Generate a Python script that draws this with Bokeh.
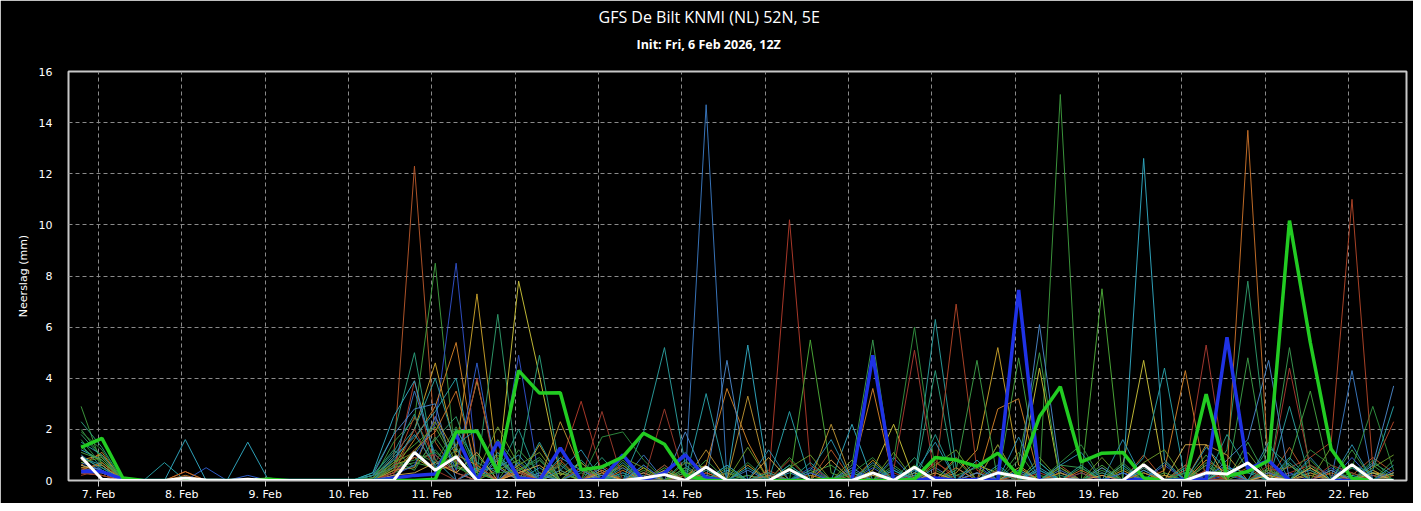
import pandas as pd
from bokeh.plotting import figure
from bokeh.models import Range1d, FixedTicker, Title
from bokeh.embed import file_html
from bokeh.resources import INLINE

# ---------------- data ----------------
title_text = "GFS De Bilt KNMI (NL) 52N, 5E"
subtitle_text = "Init: Fri, 6 Feb 2026, 12Z"
y_label = "Neerslag (mm)"

# 6-hourly steps, local time (CET), from 6 Feb 19h to 22 Feb 13h
times = pd.date_range("2026-02-06 19:00", periods=64, freq="6h")
day_ticks = pd.date_range("2026-02-07", periods=16, freq="D")
day_labels = ["7. Feb", "8. Feb", "9. Feb", "10. Feb", "11. Feb", "12. Feb", "13. Feb", "14. Feb",
              "15. Feb", "16. Feb", "17. Feb", "18. Feb", "19. Feb", "20. Feb", "21. Feb", "22. Feb"]
y_ticks = [0, 2, 4, 6, 8, 10, 12, 14, 16]

oper = [1.3, 1.65, 0.1, 0, 0, 0, 0, 0, 0, 0.05, 0, 0, 0, 0, 0, 0,
        0, 0.05, 1.9, 1.93, 0.33, 4.3, 3.42, 3.43, 0.42, 0.53, 0.92, 1.85, 1.42, 0.2, 0, 0,
        0, 0, 0, 0, 0.05, 0, 0, 0, 0.05, 0.9, 0.8, 0.55, 1.07, 0.2, 2.5, 3.67,
        0.73, 1.07, 1.1, 0.1, 0, 0, 3.38, 0.17, 0.35, 0.78, 10.17, 5.4, 1.23, 0.08, 0, 0]
control = [0.35, 0.35, 0.05, 0, 0, 0, 0, 0, 0, 0, 0, 0, 0, 0, 0, 0.1,
           0.2, 0.25, 1.8, 0, 1.5, 0.1, 0, 1.27, 0, 0.05, 1.0, 0, 0.3, 1.0, 0.1, 0,
           0, 0, 0, 0, 0, 0, 4.9, 0, 0, 0.1, 0, 0.05, 0, 7.45, 0, 0,
           0, 0, 0, 0.05, 0, 0.05, 0.05, 5.6, 0.45, 0.78, 0, 0, 0, 0, 0, 0]
ens_mean = [0.92, 0.05, 0, 0, 0, 0.1, 0.02, 0, 0.05, 0, 0, 0, 0, 0, 0, 0,
            1.1, 0.4, 0.93, 0, 0, 0, 0, 0, 0, 0, 0, 0.1, 0.23, 0, 0.53, 0,
            0, 0, 0.43, 0, 0, 0, 0.3, 0, 0.52, 0, 0, 0, 0.3, 0.15, 0, 0.05,
            0, 0, 0, 0.62, 0, 0, 0.3, 0.25, 0.69, 0.05, 0, 0, 0, 0.62, 0, 0]

m01 = [0.5, 0.3, 0, 0, 0, 0.35, 0, 0, 0, 0, 0, 0, 0, 0, 0.1, 0.9,
       12.3, 1.5, 0.3, 0, 0.8, 0.2, 0, 0.4, 0, 0.2, 0.6, 0, 0, 0.3, 0, 0,
       0, 0.4, 0, 0, 1.2, 0, 0.3, 0, 0, 0.7, 0.2, 0, 1.4, 0, 0, 0.6,
       0, 0.2, 0, 1.0, 0, 0.4, 0, 0.1, 0.5, 0, 1.3, 0, 0, 0.2, 0.9, 0.3]
m02 = [2.9, 0.6, 0, 0, 0, 0, 0, 0, 0, 0, 0, 0, 0, 0, 0, 1.5,
       2.4, 8.5, 0.6, 0.2, 1.0, 0, 0.3, 0, 0.5, 0, 0, 0.4, 0, 0, 0.8, 0,
       0.2, 0, 0.9, 0, 0, 0.3, 0, 0.6, 0, 0, 0.2, 0.5, 0, 1.1, 0, 15.1,
       0.3, 0, 0.5, 0, 0.2, 0, 0, 0.6, 0, 0.3, 0, 0.8, 0, 0, 0.4, 0]
m03 = [0.4, 0.5, 0.1, 0, 0, 0, 0, 0, 0, 0, 0, 0, 0, 0, 0, 0.3,
       1.0, 2.2, 8.5, 0.4, 0, 4.9, 0, 0.6, 0, 0, 0.3, 0, 0, 0, 0.2, 0,
       0, 0, 0, 0.5, 0, 0, 0, 0.2, 0, 0, 0, 0, 0, 0.4, 0, 0,
       0, 0.3, 0, 0, 0.6, 0, 0, 0.2, 0, 0, 0.3, 0, 0.5, 0, 0.2, 0]
m04 = [0.8, 1.0, 0.1, 0, 0, 0, 0, 0, 0, 0, 0, 0, 0, 0, 0, 0.5,
       2.0, 4.6, 1.1, 7.3, 0.6, 0, 1.4, 0, 0, 0.5, 0, 0, 0.3, 0, 0, 0,
       0.6, 0, 0, 0.2, 0, 0, 0.8, 0, 0, 0, 0.3, 1.2, 5.2, 0.6, 0, 0.3,
       0, 0, 0.4, 0, 0, 0, 0, 0.5, 0, 0.3, 0, 0, 0.4, 0, 0.2, 0]
m05 = [1.8, 0.9, 0, 0, 0, 0, 0, 0, 0, 0, 0, 0, 0, 0, 0.2, 1.2,
       0.5, 1.6, 2.5, 0.3, 6.5, 0, 0.8, 0, 0.4, 0, 0.2, 0, 0, 0.5, 0, 0,
       0, 0, 0.6, 0, 0, 0.4, 0, 0, 0.9, 0, 0, 0.3, 0, 0, 0.7, 0,
       0.5, 0, 0, 0.4, 0, 0.6, 0, 1.2, 7.8, 0.8, 0, 0.3, 0, 0.6, 0, 0]
m06 = [0.3, 0.2, 0, 0, 0, 0, 0, 0, 0, 0, 0, 0, 0, 0, 0, 0.6,
       0.9, 0.4, 0.6, 3.9, 0.3, 7.8, 4.1, 0.2, 0.7, 0, 0, 0.5, 0, 0, 0, 0.3,
       0, 0, 0, 0, 0, 0, 0.4, 2.2, 0, 0, 0, 0.6, 0.3, 0, 4.4, 0,
       0, 0, 0.6, 4.7, 0.2, 0, 0, 0, 0, 0.4, 0, 0, 0, 0, 0.3, 0.2]
m07 = [2.3, 1.3, 0, 0, 0, 0, 0, 0, 0, 0, 0, 0, 0, 0, 0.3, 1.8,
       5.0, 0.5, 1.2, 0.3, 0, 0.6, 4.9, 0.4, 0, 0.9, 0, 0, 0, 0.3, 0, 0.6,
       0, 0, 0, 0, 0.8, 0, 0, 0.4, 0, 4.3, 0, 0, 0.4, 0, 0, 0.2,
       0, 0, 0.3, 0, 0, 0.5, 0, 0, 0, 1.3, 0.6, 0, 0, 0, 0.7, 0.2]
m08 = [0.6, 1.1, 0, 0, 0, 0.2, 0, 0, 0, 0, 0, 0, 0, 0, 0, 0.4,
       1.6, 2.9, 5.4, 0.6, 0, 0.5, 0, 0.3, 0, 0, 0.4, 0, 0, 0.2, 0.6, 3.6,
       1.5, 0, 0, 0, 0, 0.3, 3.6, 0, 0, 0, 0.9, 0, 2.8, 3.2, 0, 0.5,
       0, 0, 0.3, 0, 0.4, 4.3, 0, 0, 0, 0.2, 0, 0.3, 0, 0, 0.4, 0]
m09 = [0.3, 0.2, 0, 0, 0, 0, 0, 0, 0, 0, 0, 0, 0, 0, 0, 0.2,
       3.9, 0.3, 0.8, 0, 0.5, 0, 0.2, 0.6, 3.1, 0.3, 0.5, 0, 0, 0, 0, 0.3,
       0, 0, 10.2, 0.6, 0, 0.2, 0, 0, 0, 0.8, 0, 0, 0, 0.3, 0, 0,
       0, 0.5, 0, 0, 0, 0, 0.4, 0, 0, 0, 0.3, 0.6, 0.2, 0, 0.2, 0]
m10 = [0.7, 0.4, 0, 0, 0, 0, 0, 0, 0, 0, 0, 0, 0, 0, 0.2, 0.5,
       3.5, 1.0, 0.3, 0, 0.8, 0, 0.3, 0, 0, 0.5, 0, 1.0, 0, 0, 14.7, 0,
       0.4, 0, 0, 0.3, 0, 0, 0, 0.9, 0, 0.5, 0, 0, 0, 0.3, 0, 0.4,
       0, 0, 0.3, 0, 0, 0, 0.6, 0, 0, 0, 0.2, 0.4, 0, 4.3, 0, 0.3]
m11 = [1.5, 1.0, 0, 0, 0, 0, 0, 0, 0, 0, 0, 0, 0, 0, 0.1, 1.0,
       2.0, 4.0, 1.3, 0, 0.9, 0, 1.5, 0, 0, 0.4, 0, 1.9, 5.2, 0.6, 0, 0.4,
       0, 0, 0.6, 0, 0, 0, 0.3, 0, 0, 6.3, 0.5, 0, 0, 0.4, 0, 0,
       0, 0, 0.6, 0, 0, 0.3, 0, 0.5, 0, 0, 2.9, 0, 0, 0.5, 0, 0]
m12 = [1.2, 0.8, 0, 0, 0, 1.6, 0, 0, 1.5, 0, 0, 0, 0, 0, 0.3, 2.5,
       3.9, 0.8, 0, 0.5, 0, 0.4, 0, 0.9, 0.4, 0, 0, 0.2, 0, 0, 0.4, 0,
       5.3, 0, 0.3, 0, 0, 2.2, 0, 0, 0.4, 0, 0, 0.3, 0, 0, 0.5, 0,
       0, 0.5, 0, 12.6, 0.8, 0, 0, 0.4, 0, 0, 0.6, 0, 0, 0.2, 0, 0.3]
m13 = [1.3, 0.7, 0.1, 0, 0, 0, 0, 0, 0, 0.1, 0, 0, 0, 0, 0, 0.7,
       1.4, 2.1, 0.6, 0, 0.4, 0.8, 0, 0.3, 0, 0, 0.6, 0, 0.5, 0, 0.2, 0,
       0, 0, 0, 5.5, 0.3, 0, 0, 0, 0.6, 0, 0, 0, 0.3, 0, 0.2, 0,
       0, 7.5, 0, 0.3, 0, 0, 0.8, 0, 0.4, 0, 0, 0.5, 0, 0.3, 0, 0]
m14 = [0.9, 0.5, 0, 0, 0, 0, 0, 0, 0, 0, 0, 0, 0, 0, 0, 0.3,
       0.6, 1.2, 0.3, 1.0, 0, 0.4, 0.9, 0, 0.3, 0, 0, 0.6, 0, 0.3, 0, 0,
       0, 0.3, 0, 0, 0, 0.6, 5.5, 0, 0, 0, 0.8, 0, 0, 0, 0, 0.6,
       0.5, 0, 0, 0, 0, 0.6, 0, 0, 1.5, 0, 5.2, 0.4, 0, 0, 0.3, 0]
m15 = [1.6, 0.6, 0, 0, 0, 0, 0, 0, 0, 0, 0, 0, 0, 0, 0, 0.4,
       1.1, 0.7, 2.1, 0.3, 0, 0.3, 0, 0.6, 0, 0.4, 0, 0, 0.6, 0, 0, 0.3,
       0, 0, 0.5, 0, 0, 0, 0, 0.8, 6.0, 0.4, 0, 0, 0.5, 0, 0, 0,
       0, 0.4, 0, 0, 0, 0.4, 0, 0.4, 0, 0.5, 0, 0, 0, 0.5, 2.9, 0.4]
m16 = [0.4, 0.3, 0, 0, 0, 0, 0, 0, 0, 0, 0, 0, 0, 0, 0, 0.3,
       0.9, 1.0, 0.3, 4.0, 0, 0.4, 0, 0, 0.5, 0, 0, 0, 0.6, 0, 0, 0,
       0, 0.3, 0, 0, 0, 0, 0, 0.4, 5.1, 0, 0, 0.3, 0, 0, 0.3, 0,
       0, 0, 0, 0.5, 0, 0.4, 5.3, 0, 0, 0, 4.4, 0.5, 0, 0, 0, 0]
m17 = [0.2, 0.4, 0, 0, 0, 0, 0, 0, 0, 0, 0, 0, 0, 0, 0, 0.6,
       2.5, 0.8, 0.3, 0, 0, 0.3, 0, 0, 0, 0.6, 0, 0.3, 0, 0, 0.3, 0,
       0, 0, 0.8, 0, 0, 0, 0.3, 0, 0, 0.2, 6.9, 0.4, 0, 0, 0, 0.3,
       0, 0.2, 0, 0, 0, 0.6, 0, 0.3, 0, 0.4, 0.5, 0.9, 1.5, 11.0, 0.5, 2.3]
m18 = [2.0, 0.9, 0, 0, 0, 0, 0, 0, 0, 0, 0, 0, 0, 0, 0.2, 0.8,
       0.4, 1.7, 0.5, 0.3, 0, 1.2, 0.3, 0, 0.4, 0.2, 0, 0, 0, 0.4, 0, 0,
       0.2, 0, 0, 0.4, 0, 0, 0.6, 0, 0, 0, 0.4, 4.7, 0, 0.8, 5.0, 0,
       0, 0.3, 0, 0.3, 0, 0, 0.7, 0, 4.8, 0, 0, 0.6, 0, 1.2, 0, 0.8]
m19 = [1.1, 0.8, 0, 0, 0, 0, 0, 0, 0, 0, 0, 0, 0, 0, 0, 0.5,
       0.7, 0.5, 1.0, 0, 1.6, 0.5, 0, 0.7, 0, 0, 0.8, 0, 0, 0.5, 0, 0.5,
       0, 0, 0, 0.3, 0.6, 0, 0, 0, 0.3, 0, 0, 0, 0, 4.8, 0, 0.5,
       0, 0.6, 0, 0, 0.3, 0, 1.0, 0, 0, 0, 0.8, 3.5, 0, 0, 0.6, 0]
m20 = [0.6, 0.4, 0, 0, 0, 0, 0, 0, 0, 0, 0, 0, 0, 0, 0.2, 1.8,
       2.8, 3.0, 0, 0.4, 0.5, 0, 0.2, 0, 0, 0.2, 0, 0.3, 0, 1.9, 0, 4.7,
       0, 0.2, 0, 0, 0, 0.5, 0, 0, 0.2, 0, 0, 0.3, 0, 0, 6.1, 0.3,
       0, 0, 0, 0.4, 0, 0, 0, 0.8, 1.6, 4.7, 0, 0, 0.4, 0, 0.6, 3.7]
m21 = [0.9, 0.6, 0, 0, 0.7, 0, 0, 0, 0, 0, 0, 0, 0, 0, 0, 0.9,
       1.7, 2.7, 4.0, 0, 1.1, 0, 0.5, 0, 0, 0, 0.7, 0, 0.4, 0, 3.4, 0,
       0.5, 0, 2.7, 0, 0, 0.3, 0, 0.4, 0, 0, 0, 0, 0.6, 0, 0.7, 0,
       0, 0, 0, 0.9, 4.4, 0, 0, 0.5, 0.3, 0, 0.9, 0, 0, 0, 0.4, 2.9]
m22 = [0.5, 0.6, 0, 0, 0, 0, 0, 0, 0, 0, 0, 0, 0, 0, 0, 0.4,
       0.5, 2.5, 1.0, 0.6, 0, 0.6, 0, 2.3, 0.4, 0, 0, 0.3, 0, 0, 1.2, 0,
       3.3, 0, 0.4, 0, 2.2, 0, 0, 0, 0.3, 0, 0, 0, 0, 0, 0, 0.3,
       0, 0, 0, 0, 0.2, 0, 1.4, 1.0, 0, 0.3, 0, 0.2, 0, 0, 0, 0.3]
m23 = [0.3, 0.3, 0, 0, 0, 0, 0.5, 0, 0.2, 0, 0, 0, 0, 0, 0, 0.2,
       0.6, 2.5, 0.4, 4.6, 0, 0.7, 0, 0, 0.4, 0, 0, 0.6, 0, 0, 0.4, 0,
       0, 0, 0, 0.3, 0, 0, 0.5, 0, 0, 0, 0, 0.6, 0, 0, 0.4, 0,
       0.3, 0, 0.3, 0, 0, 0, 0.2, 0.6, 0, 0.3, 0, 0, 0, 0.9, 0, 0.4]
m24 = [0.4, 0.7, 0, 0, 0, 0.35, 0, 0, 0, 0, 0, 0, 0, 0, 0, 0.3,
       1.2, 1.9, 3.5, 0.4, 0, 0.4, 0, 0.8, 0, 0.4, 0, 0, 0, 0, 0.3, 0,
       0, 0.2, 0, 0, 0.8, 0, 0, 0, 0, 0, 0.5, 0, 0, 0.2, 0, 0,
       0.4, 0, 0, 0.3, 0, 0, 0.8, 0.3, 13.7, 0.4, 0, 0, 0.3, 0, 0, 0.2]
m25 = [1.4, 0.5, 0, 0, 0, 0, 0, 0, 0, 0, 0, 0, 0, 0, 0.2, 1.1,
       2.6, 0.4, 2.0, 0.7, 0.3, 2.0, 0, 0, 0.8, 0, 0.3, 0, 0, 0.8, 0, 0,
       0, 0.3, 0, 0.7, 0, 0, 0, 0.5, 0, 1.8, 0, 0, 0.3, 0, 0.4, 0,
       0.6, 0, 0, 0.5, 0, 0.3, 0, 1.8, 0.4, 0, 0.7, 0, 0, 0.6, 0.3, 0]
m26 = [0.3, 0.2, 0, 0, 0, 0, 0, 0, 0, 0, 0, 0, 0, 0, 0, 0.3,
       2.0, 0.4, 0, 0.6, 0, 0.3, 0, 0, 0, 2.7, 0, 0, 2.8, 0, 0, 0,
       0, 0, 0.4, 0, 0, 0, 0, 0.3, 0, 0, 0, 0, 0.4, 0, 0, 0,
       0.3, 0, 0, 0, 0, 0, 0.4, 0, 0, 0.6, 0, 0, 0.6, 0.3, 0, 0]
m27 = [0.6, 0.3, 0, 0, 0, 0, 0, 0, 0, 0, 0, 0, 0, 0, 0, 0.2,
       0.3, 0.7, 0.3, 1.1, 0, 0.3, 0.6, 0, 0, 0.3, 0, 0, 0.4, 0, 0.5, 0,
       0, 0.9, 0, 0, 0, 0, 0.2, 0, 0, 0.3, 0, 0, 0, 0.5, 0, 0,
       0, 0.2, 0, 0, 0, 1.4, 1.4, 0, 0, 0.2, 0, 0.5, 0, 0, 0.3, 0]
m28 = [1.9, 1.2, 0, 0, 0, 0, 0, 0, 0, 0, 0, 0, 0, 0, 0, 0.6,
       0.8, 1.1, 0.5, 0.2, 0.3, 0.4, 0.8, 0, 0, 1.7, 1.9, 0.8, 0, 0, 0.4, 0,
       0.7, 0, 0, 0, 0, 0.3, 0.9, 0, 0, 0, 0, 0.8, 0, 0, 0, 0.7,
       1.4, 0, 0.7, 0, 0, 0.3, 0, 0, 0, 0.4, 0, 1.2, 0.6, 0, 0.8, 0]
m29 = [1.0, 0.4, 0, 0, 0, 0, 0, 0, 0, 0, 0, 0, 0, 0, 0, 0.8,
       1.8, 0.6, 1.4, 2.0, 0.5, 1.0, 0, 0.4, 1.2, 0, 0.5, 0, 0.3, 1.1, 0, 0.6,
       0, 1.2, 0, 0.4, 1.6, 0, 0.7, 0, 0.3, 1.5, 0, 0.8, 0, 1.7, 0, 0.6,
       1.1, 0, 1.6, 0, 0.7, 0, 1.3, 0.4, 0, 1.5, 0, 0.9, 0, 1.4, 0, 0.6]
m30 = [0.7, 0.9, 0, 0, 0, 0, 0, 0, 0, 0, 0, 0, 0, 0, 0.1, 0.7,
       1.1, 2.3, 0.7, 0.3, 2.1, 0.6, 1.1, 0, 0.7, 0, 0.9, 0.5, 0, 0.7, 0.5, 0,
       1.3, 0, 0.5, 1.0, 0, 0.8, 0, 1.1, 0, 0.6, 1.2, 0, 1.4, 0, 0.9, 0,
       0, 0.9, 0, 0.7, 1.2, 0, 0.6, 0, 1.1, 0, 0.6, 0, 1.3, 0, 0.5, 1.0]

members = [m01, m02, m03, m04, m05, m06, m07, m08, m09, m10, m11, m12, m13, m14, m15,
           m16, m17, m18, m19, m20, m21, m22, m23, m24, m25, m26, m27, m28, m29, m30]
member_colors = ["#b5562a", "#3d9a3d", "#3050c8", "#c8a02a", "#2e9a6a", "#c8c038", "#2a9d7a",
                 "#d08028", "#b03a2a", "#3a78c0", "#2a9d9d", "#30a8c0", "#4caa38", "#3a9a50",
                 "#2f8f3f", "#a83a30", "#b04428", "#3c9c48", "#45a040", "#4a86c8", "#28a0a8",
                 "#b89030", "#2f5fd0", "#c87028", "#239a8c", "#9c3a2c", "#d0a848", "#2e8b3e",
                 "#2b8fae", "#6a9a2a"]

# ---------------- figure ----------------
FONT = "DejaVu Sans"
x_start = pd.Timestamp("2026-02-06 15:22")
x_end = pd.Timestamp("2026-02-22 16:42")
p = figure(width=1413, height=503, x_axis_type="datetime", output_backend="svg",
           toolbar_location=None, title=None,
           x_range=Range1d(x_start, x_end), y_range=Range1d(0, 16),
           min_border_left=68, min_border_right=7, min_border_top=71, min_border_bottom=19)
p.background_fill_color = "black"
p.border_fill_color = "black"
p.outline_line_color = "#c8c8c8"
p.outline_line_width = 2

for ys, c in zip(members, member_colors):
    p.line(times, ys, line_color=c, line_width=1, line_alpha=0.95)
p.line(times, control, line_color="#1f32e6", line_width=3.5)
p.line(times, oper, line_color="#22cc22", line_width=3.5)
p.line(times, ens_mean, line_color="white", line_width=3)

tick_ms = [int((t - pd.Timestamp("1970-01-01")) / pd.Timedelta("1ms")) for t in day_ticks]
p.xaxis.ticker = FixedTicker(ticks=tick_ms)
p.xaxis.major_label_overrides = {float(t): lab for t, lab in zip(tick_ms, day_labels)}
p.xaxis.axis_line_color = "#c8c8c8"
p.xaxis.major_tick_line_color = "#c8c8c8"
p.xaxis.major_tick_out = 6
p.xaxis.major_tick_in = 0
p.xaxis.minor_tick_line_color = None
p.xaxis.major_label_text_color = "white"
p.xaxis.major_label_text_font = FONT
p.xaxis.major_label_text_font_size = "11px"
p.xaxis.major_label_standoff = 1

p.yaxis.ticker = FixedTicker(ticks=y_ticks)
p.yaxis.axis_line_color = None
p.yaxis.major_tick_line_color = None
p.yaxis.minor_tick_line_color = None
p.yaxis.major_tick_out = 0
p.yaxis.major_tick_in = 0
p.yaxis.major_label_standoff = 16
p.yaxis.major_label_text_color = "white"
p.yaxis.major_label_text_font = FONT
p.yaxis.major_label_text_font_size = "11px"
p.yaxis.axis_label = y_label
p.yaxis.axis_label_text_color = "white"
p.yaxis.axis_label_text_font = FONT
p.yaxis.axis_label_text_font_size = "11px"
p.yaxis.axis_label_text_font_style = "normal"
p.yaxis.axis_label_standoff = 6

for g in (p.xgrid, p.ygrid):
    g.grid_line_color = "#8a8a8a"
    g.grid_line_dash = "4 3"
    g.grid_line_width = 1

# spacer row between the frame and the subtitle
p.add_layout(Title(text=" ", align="left", text_color="black", text_font="Open Sans",
                   text_font_size="2px", standoff=7), "above")
p.add_layout(Title(text=subtitle_text, align="left", text_color="white", text_font="Open Sans",
                   text_font_size="12.5px", text_font_style="bold", offset=568, standoff=13), "above")
p.add_layout(Title(text=title_text, align="left", text_color="white", text_font="Open Sans",
                   text_font_size="16px", text_font_style="normal", offset=530, standoff=0), "above")

open("out.html", "w").write(file_html(p, INLINE))
